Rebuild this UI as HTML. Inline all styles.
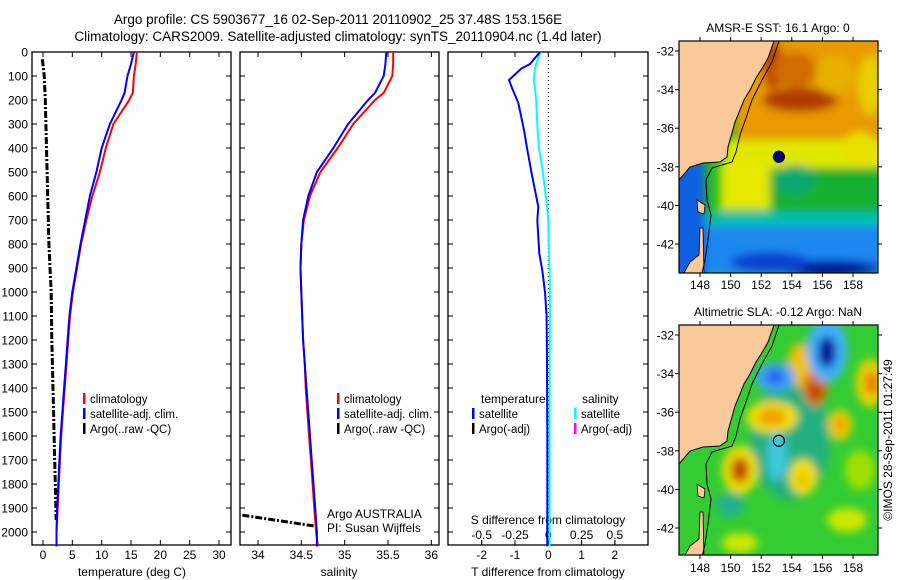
<!DOCTYPE html>
<html><head><meta charset="utf-8">
<style>
html,body{margin:0;padding:0;background:#fff;}
svg{display:block;font-family:"Liberation Sans",sans-serif;}
text{font-size:12px;fill:#000;}
</style></head>
<body>
<svg id="fig" width="900" height="580" viewBox="0 0 900 580">
<defs>
<filter id="blur" x="-20%" y="-20%" width="140%" height="140%"><feGaussianBlur stdDeviation="4.5"/></filter>
<clipPath id="clipm1"><rect x="679" y="41" width="199" height="232"/></clipPath>
<clipPath id="clipm2"><rect x="679" y="325" width="199" height="230"/></clipPath>
</defs>
<text x="338" y="24" text-anchor="middle" style="font-size:13.5px">Argo profile: CS 5903677_16 02-Sep-2011 20110902_25 37.48S 153.156E</text>
<text x="338" y="41" text-anchor="middle" style="font-size:13.5px">Climatology: CARS2009. Satellite-adjusted climatology: synTS_20110904.nc (1.4d later)</text>
<g id="panels"></g>
<g id="maps"></g>
</svg>
<script>
// ---------- data ----------
const depthTicks = [0,100,200,300,400,500,600,700,800,900,1000,1100,1200,1300,1400,1500,1600,1700,1800,1900,2000];
const tempTicks = [0,5,10,15,20,25,30];
const salTicks = [34,34.5,35,35.5,36];
const salTickLabels = ["34","34.5","35","35.5","36"];
const tdiffTicks = [-2,-1,0,1,2];
const sdiffTicks = [-0.5,-0.25,0,0.25,0.5];
const sdiffTickLabels = ["-0.5","-0.25","0","0.25","0.5"];

const profDepth = [0,50,100,170,200,300,400,500,600,700,800,900,1000,1100,1200,1300,1400,1500,1600,1700,1800,1900,2000,2060];
const tempClim = [16.0,15.8,15.5,15.3,14.7,12.0,10.7,9.7,8.4,7.4,6.5,5.8,5.1,4.6,4.3,4.0,3.7,3.4,3.1,2.9,2.7,2.5,2.3,2.3];
const tempSat  = [15.5,15.0,14.4,13.9,13.4,11.4,10.0,9.1,8.0,7.2,6.4,5.7,5.0,4.5,4.2,3.9,3.6,3.3,3.0,2.8,2.6,2.4,2.3,2.3];
const salClim = [35.56,35.56,35.55,35.45,35.35,35.10,34.92,34.72,34.60,34.53,34.50,34.49,34.50,34.51,34.52,34.54,34.55,34.57,34.59,34.61,34.63,34.65,34.67,34.69];
const salSat  = [35.48,35.47,35.45,35.35,35.27,35.04,34.87,34.68,34.58,34.52,34.50,34.49,34.50,34.51,34.52,34.54,34.56,34.58,34.60,34.62,34.64,34.66,34.68,34.68];

const argoTDepth = [30,100,200,300,400,500,600,700,800,900,1000,1100,1200,1300,1400,1500,1600,1700,1800,1900,1950];
const argoTemp   = [-0.1,0.2,0.4,0.5,0.6,0.7,0.8,0.9,1.0,1.2,1.4,1.45,1.5,1.6,1.7,1.8,1.9,2.0,2.1,2.2,2.25];
const argoSDepth = [1930,1975];
const argoSal    = [33.82,34.65];

const diffDepth = [0,50,70,117,150,212,325,400,505,645,700,840,910,1000,1100,1300,1600,2000,2060];
const tDiffSat  = [-0.25,-0.55,-0.82,-1.18,-1.09,-0.9,-0.73,-0.64,-0.5,-0.3,-0.33,-0.27,-0.18,-0.1,-0.05,-0.04,-0.03,-0.03,-0.03];
const sDiffSat  = [-0.06,-0.09,-0.1,-0.11,-0.1,-0.09,-0.08,-0.07,-0.04,-0.01,0.0,0.005,0.01,0.012,0.012,0.01,0.01,0.01,0.01];

const mapLonTicks = [148,150,152,154,156,158];
const mapLatTicks = [-32,-34,-36,-38,-40,-42];
const argoLon = 153.156, argoLat = -37.48;

// ---------- helpers ----------
const NS = "http://www.w3.org/2000/svg";
function mk(parent, tag, attrs, txt){
  const e = document.createElementNS(NS, tag);
  for (const k in attrs) e.setAttribute(k, attrs[k]);
  if (txt !== undefined) e.textContent = txt;
  parent.appendChild(e);
  return e;
}
const panelsG = document.getElementById('panels');
const TOP = 52, BOT = 545;
const yD = d => TOP + d * 0.2400;
const xT = t => 43 + t * 5.867;
const xS = s => 258 + (s - 34) * 86.67;
const xTd = t => 548.3 + t * 33.3;
const xSd = s => 548.3 + s * 133.2;

function panel(name, x0, x1, showYLabels){
  const g = mk(panelsG, 'g', {});
  
  
  const r = mk(g, 'rect', {x:x0, y:TOP, width:x1-x0, height:BOT-TOP, fill:'none', stroke:'#000', 'stroke-width':1.3});
  
  
  depthTicks.forEach(d => {
    mk(g, 'line', {x1:x0, x2:x0+5, y1:yD(d), y2:yD(d), stroke:'#000'});
    mk(g, 'line', {x1:x1, x2:x1-5, y1:yD(d), y2:yD(d), stroke:'#000'});
    if (showYLabels){
      const t = mk(g, 'text', {x:x0-4, y:yD(d)+4.5, 'text-anchor':'end'}, String(d));
      
      
    }
  });
  return g;
}
function xTicks(g, ticks, labels, fx, ly){
  ticks.forEach((v,i) => {
    mk(g, 'line', {x1:fx(v), x2:fx(v), y1:BOT, y2:BOT-5, stroke:'#000'});
    mk(g, 'line', {x1:fx(v), x2:fx(v), y1:TOP, y2:TOP+5, stroke:'#000'});
    if (ly){
      const t = mk(g, 'text', {x:fx(v), y:ly, 'text-anchor':'middle'}, labels[i]);
      
      
    }
  });
}
function line(g, xs, ds, fx, color, w, dash, name){
  const pts = xs.map((v,i) => fx(v).toFixed(1) + ',' + yD(ds[i]).toFixed(1)).join(' ');
  const p = mk(g, 'polyline', {points:pts, fill:'none', stroke:color, 'stroke-width':w});
  if (dash) p.setAttribute('stroke-dasharray', dash);
  
  
  return p;
}
function legendRow(g, x, y, color, label, name){
  mk(g, 'rect', {x:x, y:y-10, width:2.5, height:11, fill:color});
  const t = mk(g, 'text', {x:x+7, y:y, style:'font-size:11.5px'}, label);
  
  
}
function label(g, x, y, s, name, anchor){
  const t = mk(g, 'text', {x:x, y:y, 'text-anchor':anchor||'start'}, s);
  
  
}

// ---------- panel 1: temperature ----------
const p1 = panel('temperature-panel', 32, 231, true);
xTicks(p1, tempTicks, tempTicks.map(String), xT, 559);
label(p1, 132, 576, 'temperature (deg C)', 'x-axis-title-temperature', 'middle');
line(p1, argoTemp, argoTDepth, xT, '#000', 3, '7,2,2,2', 'argo-temperature-line');
line(p1, tempClim, profDepth, xT, '#ff0000', 2, null, 'climatology-temperature-line');
line(p1, tempSat, profDepth, xT, '#0000ff', 2, null, 'satellite-temperature-line');
legendRow(p1, 83, 403, '#ff0000', 'climatology', 'legend-climatology');
legendRow(p1, 83, 418, '#0000ff', 'satellite-adj. clim.', 'legend-satellite');
legendRow(p1, 83, 433, '#000', 'Argo(..raw -QC)', 'legend-argo');

// ---------- panel 2: salinity ----------
const p2 = panel('salinity-panel', 240, 439, false);
xTicks(p2, salTicks, salTickLabels, xS, 559);
label(p2, 339, 576, 'salinity', 'x-axis-title-salinity', 'middle');
line(p2, argoSal, argoSDepth, xS, '#000', 3, '7,2,2,2', 'argo-salinity-line');
line(p2, salClim, profDepth, xS, '#ff0000', 2, null, 'climatology-salinity-line');
line(p2, salSat, profDepth, xS, '#0000ff', 2, null, 'satellite-salinity-line');
legendRow(p2, 337, 403, '#ff0000', 'climatology', 'legend-climatology-sal');
legendRow(p2, 337, 418, '#0000ff', 'satellite-adj. clim.', 'legend-satellite-sal');
legendRow(p2, 337, 433, '#000', 'Argo(..raw -QC)', 'legend-argo-sal');
label(p2, 327, 518, 'Argo AUSTRALIA', 'argo-australia-credit');
label(p2, 327, 532, 'PI: Susan Wijffels', 'pi-credit');

// ---------- panel 3: differences ----------
const p3 = panel('difference-panel', 448, 648, false);
xTicks(p3, tdiffTicks, tdiffTicks.map(String), xTd, 559);
sdiffTicks.forEach((v,i) => {
  mk(p3, 'line', {x1:xSd(v), x2:xSd(v), y1:BOT, y2:BOT-5, stroke:'#000'});
  label(p3, xSd(v), 539, sdiffTickLabels[i], 's-diff-tick-label', 'middle');
});
label(p3, 548, 524, 'S difference from climatology', 's-diff-axis-title', 'middle');
label(p3, 548, 576, 'T difference from climatology', 't-diff-axis-title', 'middle');
const zl = mk(p3, 'line', {x1:xTd(0), x2:xTd(0), y1:TOP, y2:BOT, stroke:'#000', 'stroke-dasharray':'1,3'});


line(p3, sDiffSat, diffDepth, xSd, '#00ffff', 2, null, 'salinity-diff-line');
line(p3, tDiffSat, diffDepth, xTd, '#0000ff', 2, null, 'temperature-diff-line');
label(p3, 481, 403, 'temperature', 'legend-temperature-header');
legendRow(p3, 472, 418, '#0000ff', 'satellite', 'legend-t-satellite');
legendRow(p3, 472, 433, '#000', 'Argo(-adj)', 'legend-t-argo');
label(p3, 582, 403, 'salinity', 'legend-salinity-header');
legendRow(p3, 574, 418, '#00ffff', 'satellite', 'legend-s-satellite');
legendRow(p3, 574, 433, '#ff00ff', 'Argo(-adj)', 'legend-s-argo');

// ---------- maps ----------
const mapsG = document.getElementById('maps');
const MX0 = 679, MX1 = 878;
const mLon = lon => 700 + (lon - 148) * 15.3;
const landPts = [[679,41],[774,41],[768,58],[763,67],[756,78],[750,90],[744,100],[740,110],[735,122],[732,133],[728,147],[727,157],[720,162],[703,163],[690,167],[679,180]];
const contourPts = [[779,41],[772,62],[762,80],[752,100],[746,118],[740,135],[736,152],[732,162],[712,168],[706,180],[707,200],[711,215],[708,240],[705,260],[702,273]];

// colour patches: [shape, x, y, w/rx, h/ry, colour]
const sstBlobs = [
  ['r',735,30,160,115,'#e89a00'],['e',800,100,38,12,'#b03a00'],['e',773,65,10,25,'#b84000'],
  ['e',795,70,22,18,'#d06c00'],['e',835,75,20,20,'#e8b000'],['e',870,85,12,30,'#e8d000'],
  ['r',725,140,170,28,'#e0e800'],['r',720,160,55,50,'#e6e800'],['e',805,198,10,8,'#d8e800'],
  ['e',860,150,18,18,'#e8e000'],
  ['r',770,168,120,45,'#18b030'],['e',795,180,20,15,'#10a870'],
  ['r',690,212,200,18,'#00c0b0'],['r',690,226,200,50,'#1e88f0'],['e',830,268,50,8,'#0010a0'],
  ['e',770,262,40,10,'#1040d0'],['r',670,160,35,120,'#1060e0']
];
const slaBlobs = [
  ['e',790,440,40,60,'#20b080'],
  ['e',800,365,12,22,'#f0c000'],['e',815,388,12,18,'#e07000'],['e',815,392,6,8,'#b04000'],
  ['e',827,350,20,32,'#40b0ff'],['e',827,352,9,16,'#000090'],['e',775,377,20,14,'#40a0ff'],['e',775,377,9,7,'#2060e0'],
  ['e',772,417,26,16,'#f0e000'],['e',772,417,14,9,'#f0a000'],['e',870,383,14,24,'#f0d000'],['e',872,383,7,12,'#e08000'],
  ['e',840,425,12,15,'#f0d000'],['e',840,425,6,8,'#f0a000'],['e',740,470,18,24,'#f0e000'],['e',740,470,9,13,'#c04000'],
  ['e',777,457,10,24,'#40c8e0'],['e',803,477,14,18,'#f0e000'],['e',803,480,6,8,'#f0c000'],['e',730,505,14,12,'#20b090'],
  ['e',740,543,18,10,'#d0e800'],['e',847,520,20,12,'#d0e800'],['e',860,470,15,20,'#a0e000']
];

function mapPanel(name, y0, y1, bg, blobs, clipId, titleText, titleY, labelY, filled){
  const g = mk(mapsG, 'g', {});
  
  
  const dy = y0 - 41;
  const inner = mk(g, 'g', {'clip-path':'url(#' + clipId + ')'});
  mk(inner, 'rect', {x:MX0, y:y0, width:MX1-MX0, height:y1-y0, fill:bg});
  const bl = mk(inner, 'g', {filter:'url(#blur)'});
  blobs.forEach(b => {
    if (b[0] === 'r') mk(bl, 'rect', {x:b[1], y:b[2], width:b[3], height:b[4], fill:b[5]});
    else mk(bl, 'ellipse', {cx:b[1], cy:b[2], rx:b[3], ry:b[4], fill:b[5]});
  });
  const land = mk(inner, 'polygon', {points:landPts.map(p => p[0] + ',' + (p[1]+dy)).join(' '), fill:'#f9c999', stroke:'#000', 'stroke-width':1});
  
  
  mk(inner, 'polygon', {points:[[697,200],[705,205],[704,214],[698,212]].map(p => p[0] + ',' + (p[1]+dy)).join(' '), fill:'#f9c999', stroke:'#000', 'stroke-width':0.8});
  mk(inner, 'polygon', {points:[[700,228],[703,228],[704,273],[684,273],[690,262],[699,255]].map(p => p[0] + ',' + (p[1]+dy)).join(' '), fill:'#f9c999', stroke:'#000', 'stroke-width':0.8});
  const c = mk(inner, 'polyline', {points:contourPts.map(p => p[0] + ',' + (p[1]+dy)).join(' '), fill:'none', stroke:'#000', 'stroke-width':1});
  
  
  const mk2 = mk(g, 'circle', {cx:mLon(argoLon), cy:51 + dy + (-32 - argoLat) * 19.3, r:5.5, fill:filled ? '#000080' : 'none', stroke:'#000', 'stroke-width':1.2});
  
  
  mk(g, 'rect', {x:MX0, y:y0, width:MX1-MX0, height:y1-y0, fill:'none', stroke:'#000', 'stroke-width':1.2});
  mapLonTicks.forEach(l => {
    mk(g, 'line', {x1:mLon(l), x2:mLon(l), y1:y0, y2:y0-4, stroke:'#000'});
    mk(g, 'line', {x1:mLon(l), x2:mLon(l), y1:y1, y2:y1+4, stroke:'#000'});
    label(g, mLon(l), labelY, String(l), 'map-lon-tick-label', 'middle');
  });
  mapLatTicks.forEach(l => {
    const yy = 51 + dy + (-32 - l) * 19.3;
    mk(g, 'line', {x1:MX0, x2:MX0-4, y1:yy, y2:yy, stroke:'#000'});
    mk(g, 'line', {x1:MX1, x2:MX1+4, y1:yy, y2:yy, stroke:'#000'});
    label(g, MX0-5, yy+4.5, String(l), 'map-lat-tick-label', 'end');
  });
  label(g, 778, titleY, titleText, name + '-title', 'middle');
}
mapPanel('sst-map', 41, 273, '#22bb22', sstBlobs, 'clipm1', 'AMSR-E SST: 16.1 Argo: 0', 32, 289, true);
mapPanel('sla-map', 325, 555, '#33cc33', slaBlobs, 'clipm2', 'Altimetric SLA: -0.12 Argo: NaN', 316, 572, false);
const cr = mk(mapsG, 'text', {x:0, y:0, transform:'translate(892,440) rotate(-90)', 'text-anchor':'middle'}, '\u00A9IMOS 28-Sep-2011 01:27:49');


</script>
</body></html>
